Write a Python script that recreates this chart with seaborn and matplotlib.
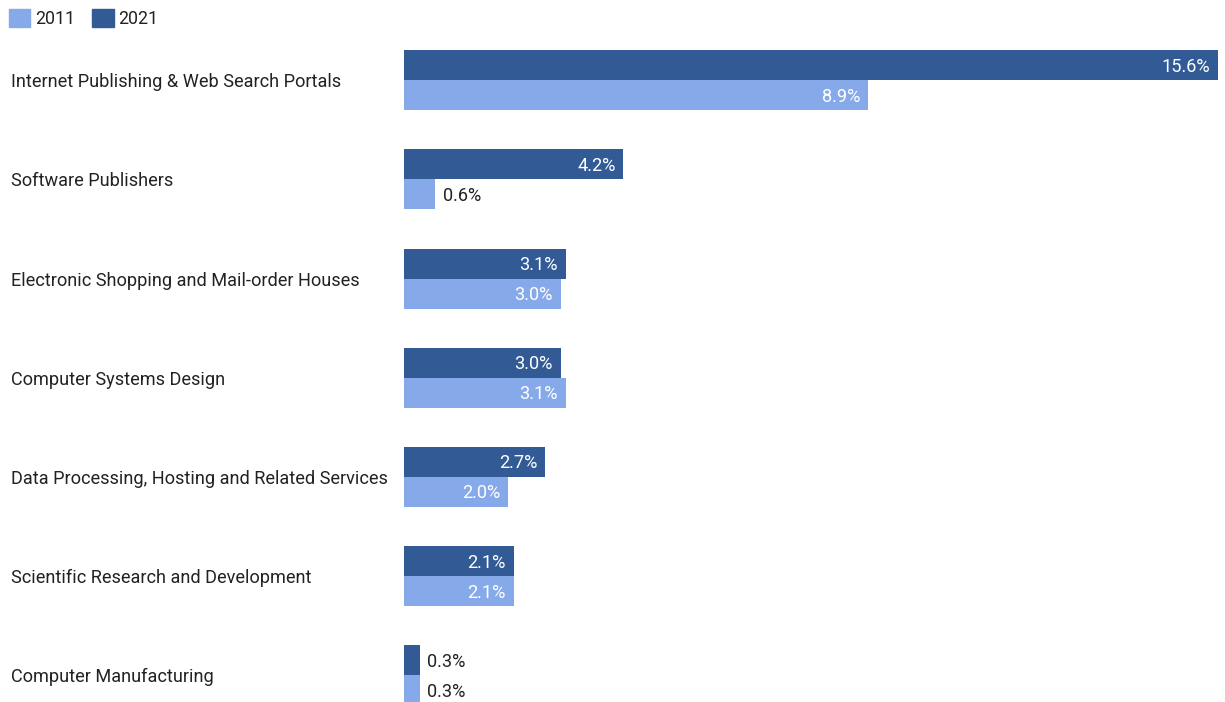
import matplotlib
matplotlib.use("Agg")
import matplotlib.pyplot as plt
import matplotlib.patches as mpatches
import seaborn as sns
import pandas as pd

categories = [
    "Internet Publishing & Web Search Portals",
    "Software Publishers",
    "Electronic Shopping and Mail-order Houses",
    "Computer Systems Design",
    "Data Processing, Hosting and Related Services",
    "Scientific Research and Development",
    "Computer Manufacturing",
]
share_2011 = [8.9, 0.6, 3.0, 3.1, 2.0, 2.1, 0.3]
share_2021 = [15.6, 4.2, 3.1, 3.0, 2.7, 2.1, 0.3]
years = ["2011", "2021"]

light = "#86A9E9"
dark = "#325B96"
text_col = "#222222"
fs = 13.1

sns.set_theme(style="white")
plt.rcParams["font.family"] = ["Roboto", "DejaVu Sans"]

df = pd.DataFrame({
    "category": categories * 2,
    "year": ["2021"] * len(categories) + ["2011"] * len(categories),
    "value": share_2021 + share_2011,
})

fig = plt.figure(figsize=(12.25, 7.02), dpi=100)
ax = fig.add_axes([404 / 1225, 0, (1218 - 404) / 1225, 1])

sns.barplot(data=df, y="category", x="value", hue="year",
            hue_order=["2021", "2011"], order=categories,
            palette={"2021": dark, "2011": light},
            width=0.605, orient="h", ax=ax, legend=False,
            saturation=1, linewidth=0)

ax.set_xlim(0, 15.6)
ax.set_ylim(6.272, -0.81)
ax.set_xlabel("")
ax.set_ylabel("")
ax.set_xticks([])
for s in ax.spines.values():
    s.set_visible(False)

ax.tick_params(axis="y", length=0, pad=283, labelsize=fs, labelcolor=text_col)
for lab in ax.get_yticklabels():
    lab.set_ha("left")

# value labels
for container, vals in zip(ax.containers, [share_2021, share_2011]):
    for bar, v in zip(container, vals):
        y = bar.get_y() + bar.get_height() / 2
        w = bar.get_width()
        if v >= 1.5:
            ax.annotate(f"{v:.1f}%", (w, y), xytext=(-5.5, -1.2), textcoords="offset points",
                        ha="right", va="center", color="white", fontsize=fs)
        else:
            ax.annotate(f"{v:.1f}%", (w, y), xytext=(5.2, -1.2), textcoords="offset points",
                        ha="left", va="center", color=text_col, fontsize=fs)

handles = [mpatches.Patch(color=light, label=years[0]),
           mpatches.Patch(color=dark, label=years[1])]
fig.legend(handles=handles, loc="upper left", bbox_to_anchor=(0.0, 1.0),
           ncol=2, frameon=False, fontsize=12.8, handlelength=1.2, handleheight=1.2,
           handletextpad=0.25, columnspacing=1.0, borderaxespad=0.1,
           labelcolor=text_col)

fig.savefig("out.png", dpi=100)
